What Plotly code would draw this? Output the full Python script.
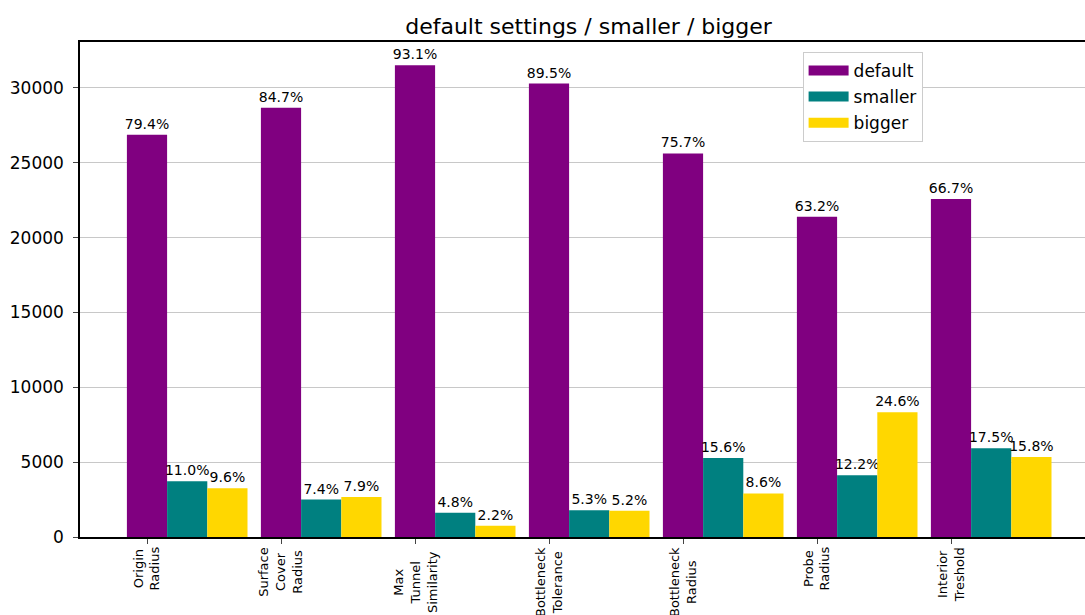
import plotly.graph_objects as go

categories = ["Origin<br>Radius", "Surface<br>Cover<br>Radius", "Max<br>Tunnel<br>Similarity",
              "Bottleneck<br>Tolerance", "Bottleneck<br>Radius", "Probe<br>Radius", "Interior<br>Treshold"]
positions = [0, 1, 2, 3, 4, 5, 6]

default_vals = [26877, 28671, 31514, 30296, 25624, 21393, 22578]
smaller_vals = [3724, 2505, 1625, 1794, 5281, 4130, 5924]
bigger_vals = [3250, 2674, 745, 1760, 2911, 8327, 5348]

default_pct = ["79.4%", "84.7%", "93.1%", "89.5%", "75.7%", "63.2%", "66.7%"]
smaller_pct = ["11.0%", "7.4%", "4.8%", "5.3%", "15.6%", "12.2%", "17.5%"]
bigger_pct = ["9.6%", "7.9%", "2.2%", "5.2%", "8.6%", "24.6%", "15.8%"]

series = [
    ("default", default_vals, default_pct, "#800080", -0.15),
    ("smaller", smaller_vals, smaller_pct, "#008080", 0.15),
    ("bigger", bigger_vals, bigger_pct, "#FFD700", 0.45),
]

fig = go.Figure()
for name, vals, pct, color, off in series:
    fig.add_trace(go.Bar(
        x=positions, y=vals, name=name, marker_color=color, marker_line_width=0,
        width=0.3, offset=off, text=pct, textposition="outside", constraintext="none",
        cliponaxis=False, textfont=dict(size=14, color="black"), showlegend=False,
    ))
    # legend entry with a wide rectangular swatch
    fig.add_trace(go.Scatter(x=[None], y=[None], mode="lines", name=name, legendgroup=name,
                             line=dict(color=color, width=12)))

# category labels: rotated, lines centred like matplotlib
for pos, lab in zip(positions, categories):
    longest = max(len(s) for s in lab.split("<br>"))
    fig.add_annotation(x=pos, y=0, xref="x", yref="y", text=lab, textangle=-90,
                       align="center", showarrow=False, yanchor="middle",
                       yshift=-(11 + longest * 6.8 / 2), font=dict(size=13))

fig.update_layout(
    width=1085, height=615,
    barmode="overlay",
    font=dict(family="DejaVu Sans", color="black"),
    plot_bgcolor="white", paper_bgcolor="white",
    margin=dict(l=80, r=0, t=42, b=78, autoexpand=False),
    title=dict(text="default settings / smaller / bigger", x=0.506, xref="paper",
               xanchor="center", y=0.958, yanchor="middle", font=dict(size=22)),
    legend=dict(x=0.719, y=0.98, xanchor="left", yanchor="top", bordercolor="#cccccc",
                borderwidth=1, font=dict(size=17), bgcolor="white", tracegroupgap=1,
                itemwidth=40),
    xaxis=dict(range=[-0.5, 7.0], tickmode="array", tickvals=positions, showticklabels=False,
               ticks="outside", ticklen=5, showline=True, linecolor="black", linewidth=1.5,
               mirror=True, showgrid=False, automargin=False),
    yaxis=dict(range=[0, 33070], tickvals=[0, 5000, 10000, 15000, 20000, 25000, 30000],
               tickformat="d", tickfont=dict(size=17), ticks="outside", ticklen=5,
               ticklabelstandoff=6, showline=True, linecolor="black", linewidth=1.5,
               showgrid=True, gridcolor="#c8c8c8", zeroline=False, automargin=False),
)

fig.write_html("out.html", config={"displayModeBar": False},
               post_script="document.body.style.margin='0';document.body.style.overflow='hidden';")
